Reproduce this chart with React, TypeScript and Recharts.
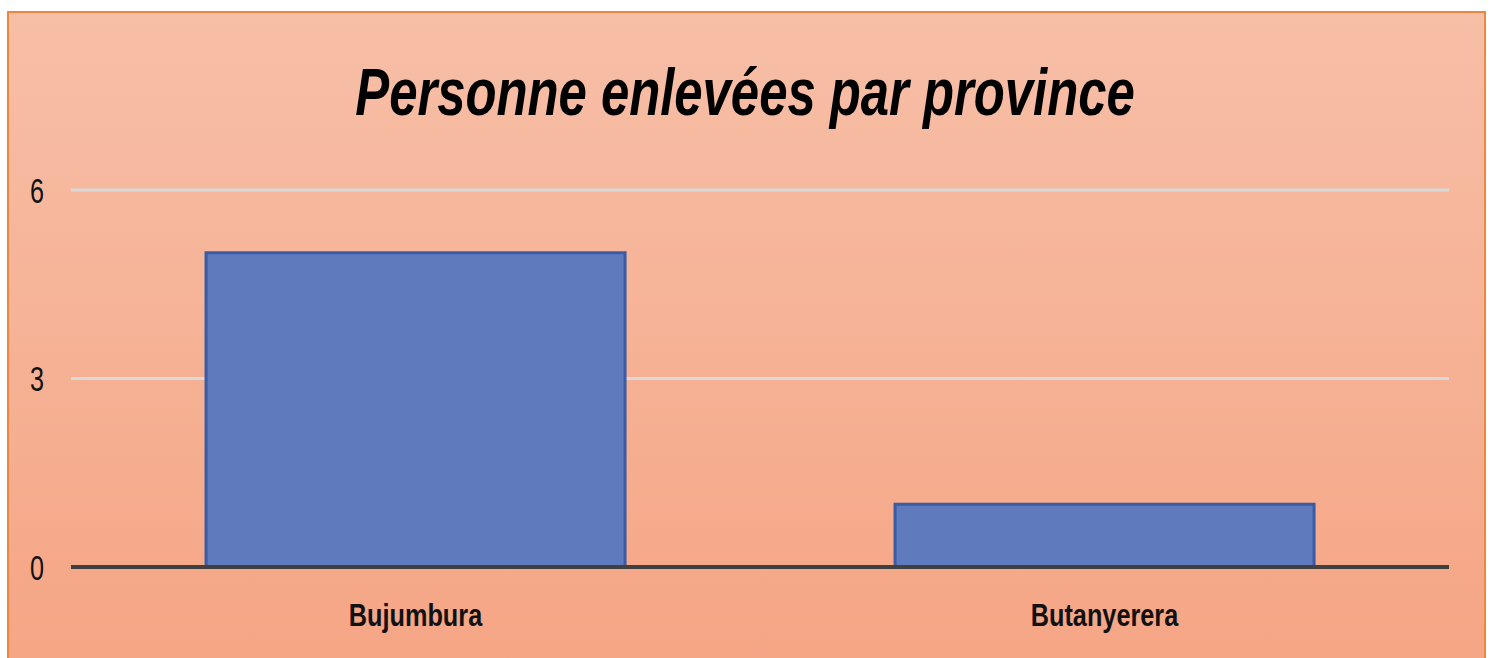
import React from 'react';
import { BarChart, Bar, XAxis, YAxis, CartesianGrid } from 'recharts';

// données
const provinces = ['Bujumbura', 'Butanyerera'];
const enlevees = [5, 1];
const yTicks = [0, 3, 6];

const data = provinces.map((p, i) => ({ name: p, value: enlevees[i] }));

const YTick = ({ x, y, payload }: any) => (
  <g transform={`translate(${x},${y})`}>
    <text
      transform="scale(0.72,1)"
      textAnchor="middle"
      dy="0.36em"
      fontFamily="'Liberation Sans', Arial, sans-serif"
      fontSize={35}
      fill="#111"
    >
      {payload.value}
    </text>
  </g>
);

const XTick = ({ x, y, payload }: any) => (
  <g transform={`translate(${x},${y + 59})`}>
    <text
      transform="scale(0.79,1)"
      textAnchor="middle"
      fontFamily="'Liberation Sans', Arial, sans-serif"
      fontWeight={700}
      fontSize={32}
      fill="#111"
    >
      {payload.value}
    </text>
  </g>
);

const App: React.FC = () => {
  return (
    <div style={{ position: 'absolute', left: 0, top: 0, width: 1494, height: 658, overflow: 'hidden' }}>
      <div
        style={{
          position: 'absolute',
          left: 7,
          top: 11,
          width: 1475,
          height: 660,
          border: '2px solid #EE8640',
          background: 'linear-gradient(to bottom, #F7BFA7, #F5A584)',
        }}
      />
      <svg width={1494} height={140} style={{ position: 'absolute', left: 0, top: 0 }}>
        <text
          transform="translate(745,115) scale(0.77,1)"
          textAnchor="middle"
          fontFamily="'Liberation Sans', Arial, sans-serif"
          fontWeight={700}
          fontStyle="italic"
          fontSize={66}
          fill="#000"
        >
          Personne enlevées par province
        </text>
      </svg>
      <div style={{ position: 'absolute', left: 0, top: 0 }}>
        <BarChart
          width={1494}
          height={658}
          data={data}
          margin={{ top: 190, right: 45, bottom: 31, left: 0 }}
          barCategoryGap="19.6%"
        >
          <CartesianGrid vertical={false} stroke="#D9D9D9" strokeWidth={3} horizontalValues={[3, 6]} />
          <YAxis
            width={71}
            domain={[0, 6]}
            ticks={yTicks}
            axisLine={false}
            tickLine={false}
            tickSize={0}
            tickMargin={34}
            tick={<YTick />}
          />
          <XAxis
            dataKey="name"
            height={60}
            axisLine={{ stroke: '#404040', strokeWidth: 4 }}
            tickLine={false}
            tickSize={0}
            tickMargin={0}
            tick={<XTick />}
          />
          <Bar dataKey="value" fill="#607BBD" stroke="#3A5CA6" strokeWidth={3} isAnimationActive={false} />
        </BarChart>
      </div>
    </div>
  );
};

export default App;
